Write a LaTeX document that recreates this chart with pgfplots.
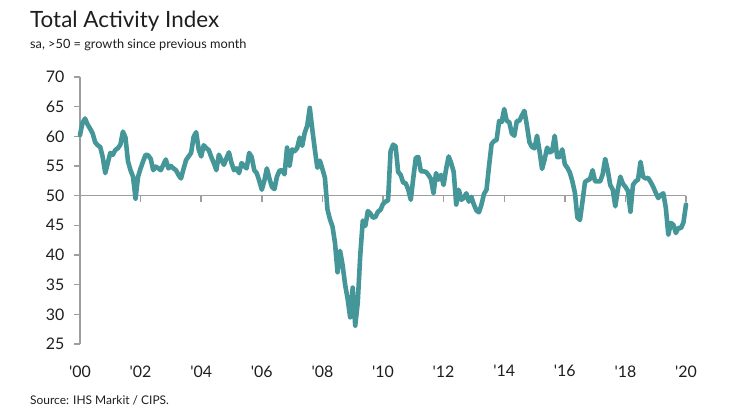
\documentclass[border=0pt]{standalone}
\usepackage{pgfplots}
\pgfplotsset{compat=1.18}
\usepackage{fontspec}
\setmainfont{Lato}

\definecolor{lineteal}{RGB}{69,150,153}
\definecolor{axisgray}{RGB}{158,158,158}
\definecolor{textdark}{RGB}{30,30,30}

\begin{document}
\begin{tikzpicture}
    % page = 730 x 417 bp, plot box lower left at (0,0)
    \useasboundingbox (-80bp,-73bp) rectangle (650bp,344bp);

    \begin{axis}[
            scale only axis,
            width=606bp,
            height=267bp,
            xmin=0, xmax=240,
            ymin=25, ymax=70,
            axis y line*=left,
            axis x line*=bottom,
            x axis line style={draw=none},
            y axis line style={draw=axisgray, line width=1.4bp},
            tick align=outside,
            major tick length=6bp,
            xtick style={draw=none},
            ytick style={draw=axisgray, line width=1.4bp},
            xtick={0,24,...,240},
            xticklabels={\textquotesingle00,\textquotesingle02,\textquotesingle04,\textquotesingle06,\textquotesingle08,\textquotesingle10,\textquotesingle12,\textquotesingle14,\textquotesingle16,\textquotesingle18,\textquotesingle20},
            ytick={25,30,...,70},
            /pgf/number format/assume math mode=true,
            tick label style={font=\fontsize{16}{19}\selectfont, text=textdark},
            xticklabel style={yshift=-12bp},
            yticklabel style={xshift=-6bp},
            clip=false,
        ]
        % reference line at 50 with its year ticks
        \draw[axisgray, line width=1.4bp] (axis cs:0,50) -- (axis cs:240,50);
        \pgfplotsinvokeforeach{24,48,...,240}{
            \draw[axisgray, line width=1.4bp] (axis cs:#1,50) -- ([yshift=-6bp]axis cs:#1,50);
        }

        \addplot [lineteal, line width=4.6bp, line join=round, line cap=round]
        table {%
0 60.2
1 62.3
2 63.0
3 62.0
4 61.3
5 60.5
6 59.0
7 58.5
8 58.2
9 56.5
10 53.8
11 55.5
12 57.2
13 56.9
14 57.7
15 58.0
16 58.6
17 60.8
18 59.8
19 55.8
20 54.3
21 53.2
22 49.5
23 53.2
24 54.6
25 55.8
26 56.9
27 56.8
28 56.2
29 54.3
30 54.9
31 54.6
32 54.3
33 55.2
34 56.1
35 54.6
36 55.0
37 54.6
38 54.3
39 53.5
40 52.9
41 54.5
42 56.0
43 56.6
44 57.2
45 59.9
46 60.7
47 57.8
48 56.6
49 58.5
50 58.0
51 57.7
52 56.5
53 55.5
54 54.3
55 56.9
56 56.0
57 55.2
58 56.3
59 57.3
60 55.5
61 54.3
62 54.6
63 53.8
64 55.5
65 55.0
66 54.6
67 57.2
68 56.5
69 54.3
70 53.8
71 52.5
72 51.0
73 52.5
74 54.6
75 52.9
76 51.5
77 51.1
78 53.2
79 54.2
80 54.3
81 53.6
82 58.1
83 55.0
84 57.8
85 57.5
86 58.0
87 59.8
88 58.4
89 60.6
90 61.8
91 64.8
92 61.2
93 57.8
94 54.7
95 55.9
96 54.5
97 53.0
98 47.7
99 46.0
100 44.8
101 42.0
102 37.1
103 40.7
104 38.3
105 35.0
106 32.6
107 29.5
108 34.5
109 28.1
110 32.0
111 40.0
112 45.8
113 44.9
114 47.4
115 47.0
116 46.3
117 46.4
118 47.3
119 47.6
120 48.6
121 49.0
122 49.2
123 57.5
124 58.6
125 58.3
126 54.0
127 53.5
128 52.2
129 52.1
130 51.0
131 49.3
132 53.0
133 56.4
134 56.5
135 54.1
136 54.1
137 54.0
138 53.5
139 52.8
140 50.4
141 53.8
142 52.7
143 53.5
144 51.8
145 54.5
146 56.6
147 55.5
148 54.0
149 48.5
150 51.0
151 49.3
152 49.6
153 50.4
154 49.0
155 49.8
156 48.5
157 47.5
158 47.2
159 48.5
160 50.3
161 51.0
162 55.0
163 58.7
164 59.2
165 59.4
166 62.6
167 62.4
168 64.6
169 62.6
170 62.4
171 60.5
172 60.1
173 62.6
174 62.6
175 63.5
176 64.3
177 61.8
178 59.0
179 58.2
180 58.0
181 60.1
182 57.5
183 54.5
184 56.1
185 58.1
186 57.3
187 57.5
188 60.1
189 56.5
190 56.5
191 57.8
192 55.3
193 54.7
194 53.9
195 52.4
196 50.5
197 46.3
198 45.9
199 49.0
200 52.3
201 52.6
202 52.8
203 54.3
204 52.4
205 52.4
206 52.4
207 53.6
208 56.2
209 54.3
210 51.8
211 51.0
212 48.2
213 51.0
214 53.2
215 52.0
216 51.5
217 50.8
218 47.3
219 51.8
220 52.4
221 52.7
222 55.7
223 53.2
224 52.9
225 53.0
226 52.3
227 51.5
228 50.5
229 49.6
230 50.1
231 50.4
232 48.0
233 43.4
234 45.4
235 45.1
236 43.7
237 44.6
238 44.5
239 45.5
240 48.5
        };
    \end{axis}

    % titles and source
    \node[anchor=base west, inner sep=0pt, text=textdark,
        font=\fontsize{22.5}{27}\selectfont] at (-50bp,316.5bp) {Total Activity Index};
    \node[anchor=base west, inner sep=0pt, text=textdark,
        font=\fontsize{12.8}{15}\selectfont] at (-50bp,295bp) {sa, >50 = growth since previous month};
    \node[anchor=base west, inner sep=0pt, text=textdark,
        font=\fontsize{12}{14}\selectfont] at (-50bp,-60bp) {Source: IHS Markit / CIPS.};
\end{tikzpicture}
\end{document}
